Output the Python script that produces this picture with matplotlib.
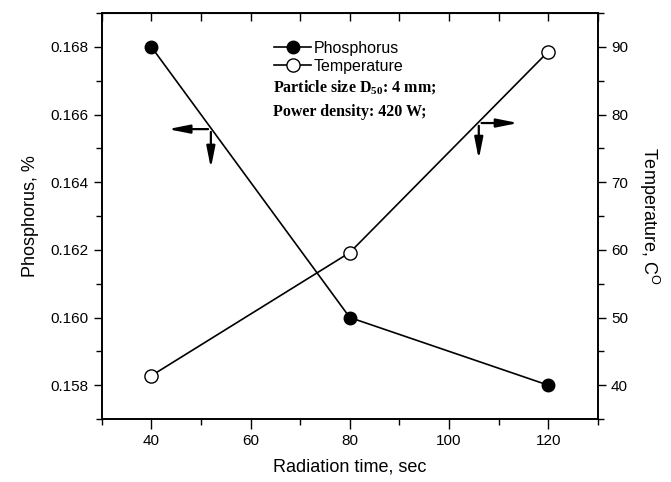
import matplotlib
matplotlib.use("Agg")
import matplotlib.pyplot as plt
from matplotlib.ticker import MultipleLocator

# data
radiation_time = [40, 80, 120]
phosphorus = [0.168, 0.160, 0.158]
temperature = [41.4, 59.6, 89.3]

plt.rcParams['font.family'] = ['Liberation Sans', 'DejaVu Sans']

fig = plt.figure(figsize=(6.71, 4.82), dpi=100)
ax = fig.add_axes([0.1516, 0.1307, 0.7394, 0.8423])
ax2 = ax.twinx()

l1, = ax.plot(radiation_time, phosphorus, '-o', color='black', lw=1.2,
              markersize=9, markerfacecolor='black', label='Phosphorus')
l2, = ax2.plot(radiation_time, temperature, '-o', color='black', lw=1.2,
               markersize=9.5, markerfacecolor='white', markeredgewidth=1.0,
               label='Temperature')

ax.set_xlim(30, 130)
ax.set_ylim(0.157, 0.169)
ax2.set_ylim(35, 95)

ax.xaxis.set_major_locator(MultipleLocator(20))
ax.xaxis.set_minor_locator(MultipleLocator(10))
ax.yaxis.set_major_locator(MultipleLocator(0.002))
ax.yaxis.set_minor_locator(MultipleLocator(0.001))
ax2.yaxis.set_major_locator(MultipleLocator(10))
ax2.yaxis.set_minor_locator(MultipleLocator(5))
ax.yaxis.set_major_formatter(plt.FormatStrFormatter('%.3f'))

ax.tick_params(axis='x', which='both', direction='out', top=False, labelsize=11)
ax.tick_params(axis='x', which='major', length=7, width=1)
ax.tick_params(axis='x', which='minor', length=4, width=1)
ax.tick_params(axis='y', which='major', direction='out', length=6, width=1, labelsize=11)
ax.tick_params(axis='y', which='minor', direction='out', length=4, width=1)
ax2.tick_params(axis='y', which='major', direction='out', length=6, width=1, labelsize=11)
ax2.tick_params(axis='y', which='minor', direction='out', length=4, width=1)

# top axis ticks pointing inward
sec = ax.secondary_xaxis('top')
sec.xaxis.set_major_locator(MultipleLocator(10))
sec.tick_params(direction='in', length=6, width=1, labeltop=False)

for a in (ax, ax2):
    for s in a.spines.values():
        s.set_linewidth(1.2)

ax.set_xlabel('Radiation time, sec', fontsize=13, labelpad=8)
ax.set_ylabel('Phosphorus, %', fontsize=13, labelpad=8)
ax2.set_ylabel('Temperature, C$^{\\mathregular{O}}$', fontsize=13, rotation=270,
               labelpad=24)

leg = ax.legend(handles=[l1, l2], loc='upper left', bbox_to_anchor=(0.335, 0.948),
                frameon=False, fontsize=11.5, handlelength=2.3, handletextpad=0.15,
                borderaxespad=0, labelspacing=0.22)

ax.text(0.345, 0.815, 'Particle size D$_{\\mathregular{50}}$: 4 mm;', transform=ax.transAxes,
        fontsize=11.5, fontweight='bold', family='Liberation Serif', va='center')
ax.text(0.345, 0.757, 'Power density: 420 W;', transform=ax.transAxes,
        fontsize=11.5, fontweight='bold', family='Liberation Serif', va='center')

# arrows showing which axis each curve belongs to
arrow = dict(arrowstyle='-|>,head_length=0.8,head_width=0.16', color='black',
             lw=1.6, mutation_scale=16)
ax.annotate('', xy=(0.128, 0.714), xytext=(0.22, 0.714), xycoords='axes fraction',
            arrowprops=arrow)
ax.annotate('', xy=(0.22, 0.611), xytext=(0.22, 0.714), xycoords='axes fraction',
            arrowprops=arrow)
ax.annotate('', xy=(0.845, 0.729), xytext=(0.76, 0.729), xycoords='axes fraction',
            arrowprops=arrow)
ax.annotate('', xy=(0.76, 0.633), xytext=(0.76, 0.729), xycoords='axes fraction',
            arrowprops=arrow)

fig.savefig('out.png', dpi=100)
